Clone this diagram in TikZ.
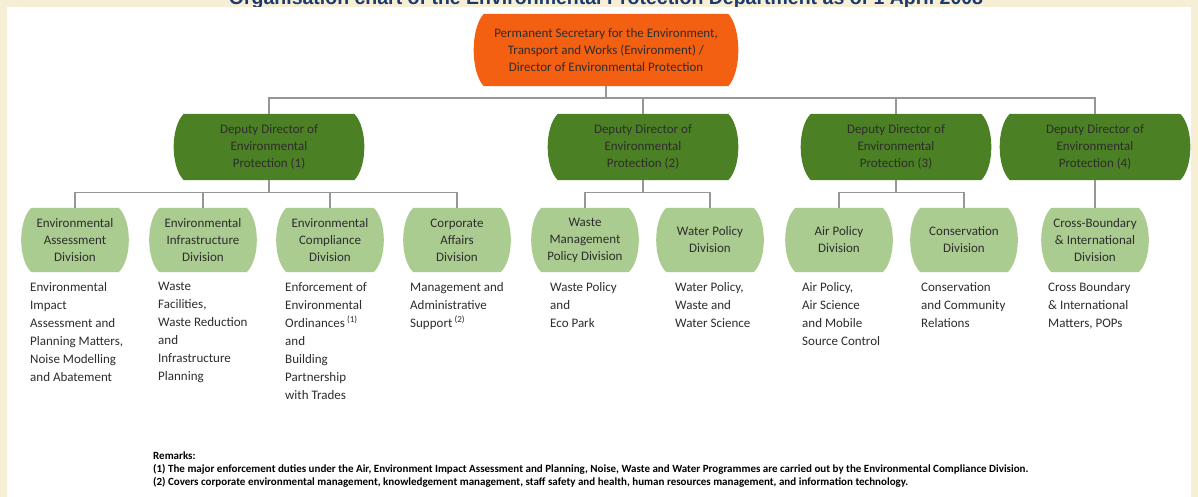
\documentclass[tikz,border=0pt]{standalone}
\usepackage{fontspec}
\setmainfont{Carlito}
\newfontfamily\titlefont{Liberation Sans}
\usepackage{tikz}
\usetikzlibrary{positioning,calc,backgrounds}
\usepackage{xcolor}
\definecolor{paper}{RGB}{246,239,214}
\definecolor{headorange}{RGB}{244,96,18}
\definecolor{deputygreen}{RGB}{76,128,36}
\definecolor{divgreen}{RGB}{170,204,144}
\definecolor{linkgray}{RGB}{150,150,150}
\definecolor{titleblue}{RGB}{28,58,110}
\definecolor{ink}{RGB}{45,45,45}
% barrel shaped box behind a node: #1 node, #2 colour
\newcommand{\barrelbox}[2]{%
\fill[#2] ($(#1.north west)+(4.5,0)$) -- ($(#1.north east)-(4.5,0)$)
 .. controls ($(#1.north east)!0.2!(#1.south east)+(9,0)$) and ($(#1.north east)!0.8!(#1.south east)+(9,0)$) .. ($(#1.south east)-(4.5,0)$)
 -- ($(#1.south west)+(4.5,0)$)
 .. controls ($(#1.north west)!0.8!(#1.south west)-(9,0)$) and ($(#1.north west)!0.2!(#1.south west)-(9,0)$) .. cycle;}

\begin{document}
\begin{tikzpicture}[x=1pt,y=-1pt,
box/.style={inner sep=0pt,align=center,text=ink,font=\fontsize{13}{17}\selectfont},
headbox/.style={box,minimum width=253pt,minimum height=72pt},
deputybox/.style={box,minimum width=179pt,minimum height=66pt},
divbox/.style={box,minimum width=96pt,minimum height=64pt},
desc/.style={inner sep=0pt,align=left,anchor=north west,text=ink,font=\fontsize{13}{18}\selectfont},
link/.style={draw=linkgray,line width=1.4pt}]
\useasboundingbox (0,0) rectangle (1198,497);
% top
\node[headbox] (ps) at (606,50) {Permanent Secretary for the Environment,\\Transport and Works (Environment) /\\Director of Environmental Protection};
% deputy directors
\foreach \n/\x/\k in {dd1/269/1,dd2/643/2,dd3/896/3,dd4/1095/4}
\node[deputybox] (\n) at (\x,147) {Deputy Director of\\Environmental\\Protection (\k)};
% divisions and their duties
\foreach \n/\x/\t/\dx/\d in {
ea/75/{Environmental\\Assessment\\Division}/30/{Environmental\\Impact\\Assessment and\\Planning Matters,\\Noise Modelling\\and Abatement},
ei/203/{Environmental\\Infrastructure\\Division}/158/{Waste\\Facilities,\\Waste Reduction\\and\\Infrastructure\\Planning},
ec/330/{Environmental\\Compliance\\Division}/285/{Enforcement of\\Environmental\\Ordinances\,\textsuperscript{(1)}\\and\\Building\\Partnership\\with Trades},
ca/457/{Corporate\\Affairs\\Division}/410/{Management and\\Administrative\\Support\,\textsuperscript{(2)}},
wm/585/{Waste\\Management\\Policy Division}/550/{Waste Policy\\and\\Eco Park},
wp/710/{Water Policy\\Division}/675/{Water Policy,\\Waste and\\Water Science},
ap/839/{Air Policy\\Division}/802/{Air Policy,\\Air Science\\and Mobile\\Source Control},
cd/964/{Conservation\\Division}/921/{Conservation\\and Community\\Relations},
cb/1095/{Cross-Boundary\\\& International\\Division}/1048/{Cross Boundary\\\& International\\Matters, POPs}}{
\node[divbox] (\n) at (\x,240) {\t};
\node[desc] (\n-d) at (\dx,282) {\d};
}
% remarks
\node[inner sep=0pt,align=left,anchor=north west,text=black,font=\bfseries\fontsize{11}{12.8}\selectfont] (notes) at (153,452)
{Remarks:\\(1) The major enforcement duties under the Air, Environment Impact Assessment and Planning, Noise, Waste and Water Programmes are carried out by the Environmental Compliance Division.\\(2) Covers corporate environmental management, knowledgement management, staff safety and health, human resources management, and information technology.};
% connectors
\foreach \n in {dd1,dd2,dd3,dd4}
\draw[link] (ps.south) -- ++(0,12) -| (\n.north);
\foreach \p/\c in {dd1/ea,dd1/ei,dd1/ec,dd1/ca,dd2/wm,dd2/wp,dd3/ap,dd3/cd,dd4/cb}
\draw[link] (\p.south) -- ++(0,12) -| (\c.north);
% page and box shapes
\begin{scope}[on background layer]
\clip (0,0) rectangle (1198,497);
\fill[paper] (0,0) rectangle (1198,497);
\node[font=\titlefont\bfseries\fontsize{19.5}{20}\selectfont,text=titleblue,anchor=base] (title) at (606,5)
{Organisation chart of the Environmental Protection Department as of 1 April 2008};
\fill[white] (7,7) rectangle (1191,497);
\barrelbox{ps}{headorange}
\foreach \n in {dd1,dd2,dd3,dd4} {\barrelbox{\n}{deputygreen}}
\foreach \n in {ea,ei,ec,ca,wm,wp,ap,cd,cb} {\barrelbox{\n}{divgreen}}
\end{scope}
\end{tikzpicture}
\end{document}
